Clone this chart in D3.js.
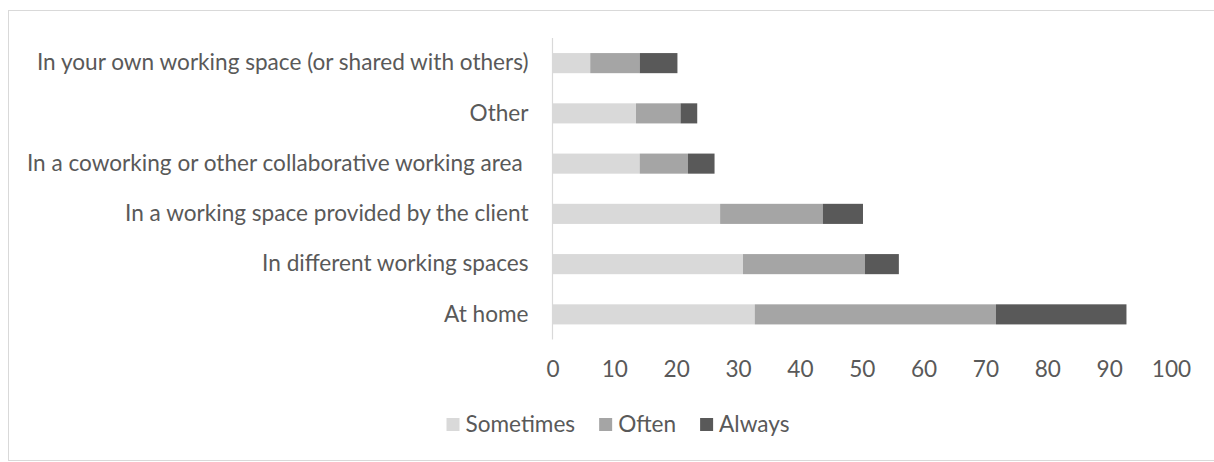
<!DOCTYPE html>
<html>
<head>
<meta charset="utf-8">
<script src="https://cdn.jsdelivr.net/npm/d3@7"></script>
<style>
  html, body { margin: 0; padding: 0; background: #fff; }
  svg { display: block; }
  text { font-family: Lato, "Open Sans", "DejaVu Sans", sans-serif; fill: #595959; }
</style>
</head>
<body>
<svg id="chart" width="1214" height="462"></svg>
<script>
// Where people work, stacked by frequency
const categories = [
  "In your own working space (or shared with others)",
  "Other",
  "In a coworking or other collaborative working area ",
  "In a working space provided by the client",
  "In different working spaces",
  "At home"
];
const seriesNames = ["Sometimes", "Often", "Always"];
const sometimes = [6.1, 13.5, 14.1, 27.1, 30.8, 32.7];
const often     = [8.0, 7.2, 7.8, 16.6, 19.7, 39.0];
const always    = [6.1, 2.7, 4.3, 6.5, 5.5, 21.1];
const xTicks = [0, 10, 20, 30, 40, 50, 60, 70, 80, 90, 100];
const colors = ["#d9d9d9", "#a5a5a5", "#595959"];

const fontSize = 22.6;
const svg = d3.select("#chart");

// chart frame
svg.append("rect")
  .attr("x", 8.5).attr("y", 10.5)
  .attr("width", 1220).attr("height", 450)
  .attr("fill", "#fff").attr("stroke", "#d9d9d9").attr("stroke-width", 1);

const x = d3.scaleLinear().domain([0, 100]).range([552.5, 1171]);
const y = d3.scaleBand().domain(categories).range([38, 339.5])
  .paddingInner(0.6).paddingOuter(0.3);

const rows = categories.map((c, i) => ({
  category: c, Sometimes: sometimes[i], Often: often[i], Always: always[i]
}));
const stacked = d3.stack().keys(seriesNames)(rows);

svg.append("g").selectAll("g")
  .data(stacked)
  .join("g")
    .attr("fill", (d, i) => colors[i])
  .selectAll("rect")
  .data(d => d)
  .join("rect")
    .attr("x", d => x(d[0]))
    .attr("y", d => y(d.data.category))
    .attr("width", d => x(d[1]) - x(d[0]))
    .attr("height", y.bandwidth());

// vertical category axis line
svg.append("line")
  .attr("x1", x(0)).attr("x2", x(0))
  .attr("y1", 38).attr("y2", 339.5)
  .attr("stroke", "#d9d9d9").attr("stroke-width", 1.2);

// category labels
const yAxis = d3.axisLeft(y).tickSize(0).tickPadding(24);
const gy = svg.append("g").attr("transform", `translate(${x(0)},0)`).call(yAxis);
gy.select(".domain").remove();
gy.selectAll("text")
  .attr("font-size", fontSize)
  .attr("font-family", null)
  .attr("fill", null)
  .style("white-space", "pre");

// value axis labels
const xAxis = d3.axisBottom(x).tickValues(xTicks).tickSize(0).tickPadding(0);
const gx = svg.append("g").attr("transform", "translate(0,361)").call(xAxis);
gx.select(".domain").remove();
gx.selectAll("text")
  .attr("font-size", fontSize)
  .attr("font-family", null)
  .attr("fill", null);

// legend
const legend = svg.append("g");
const items = legend.selectAll("g").data(seriesNames).join("g");
items.append("rect")
  .attr("width", 13).attr("height", 13)
  .attr("y", 418)
  .attr("fill", (d, i) => colors[i]);
items.append("text")
  .attr("x", 19).attr("y", 431.5)
  .attr("font-size", fontSize)
  .text(d => d);
let cursor = 0;
items.each(function () {
  const g = d3.select(this);
  g.attr("transform", `translate(${cursor},0)`);
  cursor += 19 + g.select("text").node().getComputedTextLength() + 24;
});
const legendWidth = cursor - 24;
legend.attr("transform", `translate(${618 - legendWidth / 2},0)`);
</script>
</body>
</html>
